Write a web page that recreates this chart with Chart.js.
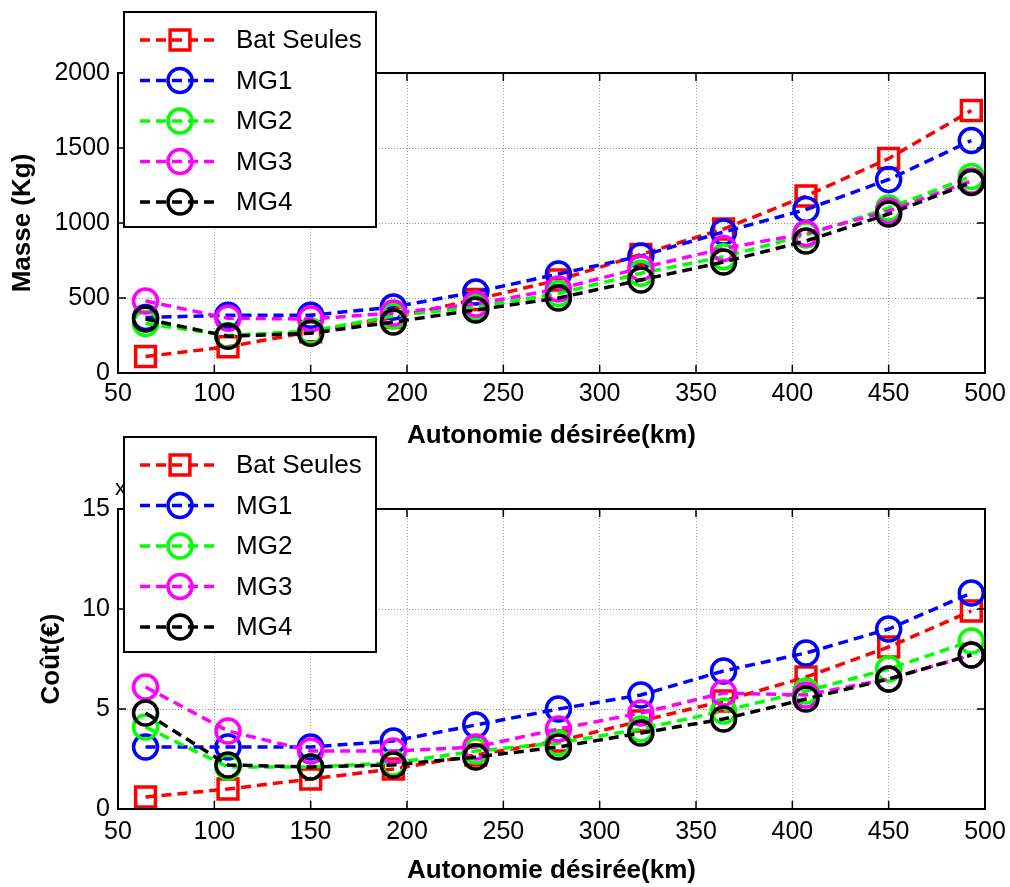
<!DOCTYPE html>
<html><head><meta charset="utf-8">
<script src="https://cdn.jsdelivr.net/npm/chart.js@4/dist/chart.umd.min.js"></script>
<style>
html,body{margin:0;padding:0;background:#fff;width:1010px;height:887px;overflow:hidden;}
#c1{position:absolute;left:0;top:0;}
#c2{position:absolute;left:0;top:425px;}
</style></head><body>
<canvas id="c1" width="1010" height="460"></canvas>
<canvas id="c2" width="1010" height="462"></canvas>
<script>
// ---- data ----
const autonomie = [64.3, 107.1, 150, 192.9, 235.7, 278.6, 321.4, 364.3, 407.1, 450, 492.9];
const seriesNames = ['Bat Seules', 'MG1', 'MG2', 'MG3', 'MG4'];
const batMasse = [110, 175, 275, 370, 490, 620, 790, 960, 1180, 1430, 1750];
const mg1Masse = [370, 385, 385, 440, 540, 660, 780, 940, 1090, 1290, 1550];
const mg2Masse = [330, 250, 280, 380, 440, 530, 665, 775, 920, 1100, 1310];
const mg3Masse = [480, 365, 360, 400, 460, 560, 700, 830, 930, 1080, 1280];
const mg4Masse = [360, 245, 265, 340, 420, 500, 620, 740, 880, 1060, 1270];
const batCout = [0.6, 1.0, 1.5, 2.0, 2.7, 3.4, 4.4, 5.4, 6.6, 8.1, 9.9];
const mg1Cout = [3.1, 3.1, 3.1, 3.4, 4.2, 5.0, 5.7, 6.9, 7.8, 9.0, 10.8];
const mg2Cout = [4.1, 2.1, 2.1, 2.3, 2.9, 3.3, 4.0, 4.9, 5.9, 7.0, 8.4];
const mg3Cout = [6.1, 3.9, 2.9, 2.9, 3.1, 4.0, 4.8, 5.8, 5.7, 6.5, 7.7];
const mg4Cout = [4.8, 2.2, 2.1, 2.2, 2.6, 3.1, 3.8, 4.5, 5.5, 6.5, 7.7];
const xTicks = [50, 100, 150, 200, 250, 300, 350, 400, 450, 500];
const masseTicks = [0, 500, 1000, 1500, 2000];
const coutTicks = [0, 5, 10, 15];
const xTitle = 'Autonomie désirée(km)';
const masseTitle = 'Masse (Kg)';
const coutTitle = 'Coût(€)';
const exponentLabel = 'x10';

const colors = ['#ff0000', '#0000ff', '#00ff00', '#ff00ff', '#000000'];
const styles = ['rect', 'circle', 'circle', 'circle', 'circle'];
const radii = [14, 12, 12, 12, 12];
const FONT = '"Liberation Sans", Arial, sans-serif';

function makeDatasets(arrs) {
  return arrs.map((vals, i) => ({
    label: seriesNames[i],
    data: autonomie.map((x, j) => ({x: x, y: vals[j]})),
    borderColor: colors[i],
    backgroundColor: colors[i],
    borderWidth: 3.5,
    borderDash: [10, 6],
    pointStyle: styles[i],
    pointRadius: radii[i],
    pointHoverRadius: radii[i],
    pointBorderWidth: 3.5,
    pointBackgroundColor: 'rgba(0,0,0,0)',
    pointBorderColor: colors[i],
    order: 5 - i,
    tension: 0,
    clip: false
  }));
}

const framePlugin = {
  id: 'frame',
  afterDraw(chart, args, opts) {
    const ctx = chart.ctx, a = chart.chartArea;
    const xs = chart.scales.x, ys = chart.scales.y;
    ctx.save();
    ctx.strokeStyle = '#000';
    ctx.lineWidth = 2;
    ctx.setLineDash([]);
    ctx.strokeRect(a.left, a.top, a.right - a.left, a.bottom - a.top);
    // inward ticks
    ctx.lineWidth = 1.5;
    const tl = 8;
    xs.ticks.forEach(t => {
      const px = xs.getPixelForValue(t.value);
      ctx.beginPath();
      ctx.moveTo(px, a.bottom); ctx.lineTo(px, a.bottom - tl);
      ctx.moveTo(px, a.top); ctx.lineTo(px, a.top + tl);
      ctx.stroke();
    });
    ys.ticks.forEach(t => {
      const py = ys.getPixelForValue(t.value);
      ctx.beginPath();
      ctx.moveTo(a.left, py); ctx.lineTo(a.left + tl, py);
      ctx.moveTo(a.right, py); ctx.lineTo(a.right - tl, py);
      ctx.stroke();
    });
    if (opts.exponent) {
      ctx.fillStyle = '#000';
      ctx.font = '22px ' + FONT;
      ctx.textAlign = 'left';
      ctx.textBaseline = 'middle';
      ctx.fillText(opts.exponent, 115, opts.exponentY);
    }
    // legend
    const L = opts.legend;
    ctx.fillStyle = '#fff';
    ctx.fillRect(L.x, L.y, L.w, L.h);
    ctx.lineWidth = 2;
    ctx.strokeStyle = '#000';
    ctx.strokeRect(L.x, L.y, L.w, L.h);
    chart.data.datasets.forEach((ds, i) => {
      const y = L.y + 28 + i * 40.5;
      ctx.save();
      ctx.strokeStyle = ds.borderColor;
      ctx.lineWidth = 3.5;
      ctx.setLineDash([10, 6]);
      ctx.beginPath();
      ctx.moveTo(L.x + 16, y); ctx.lineTo(L.x + 96, y);
      ctx.stroke();
      ctx.setLineDash([]);
      ctx.fillStyle = 'rgba(0,0,0,0)';
      ctx.strokeStyle = ds.borderColor;
      Chart.helpers.drawPoint(ctx, {pointStyle: ds.pointStyle, radius: ds.pointRadius, borderWidth: 3.5}, L.x + 56, y);
      ctx.restore();
      ctx.fillStyle = '#000';
      ctx.font = '26px ' + FONT;
      ctx.textAlign = 'left';
      ctx.textBaseline = 'middle';
      ctx.fillText(ds.label, L.x + 112, y + 1);
    });
    ctx.restore();
  }
};

function makeChart(id, arrs, yTicks, yTitle, geom) {
  const yMin = yTicks[0], yMax = yTicks[yTicks.length - 1];
  return new Chart(document.getElementById(id), {
    type: 'line',
    data: {datasets: makeDatasets(arrs)},
    plugins: [framePlugin],
    options: {
      responsive: false,
      animation: false,
      events: [],
      layout: {padding: {left: 0, right: 25, top: geom.top, bottom: 0}},
      plugins: {
        legend: {display: false},
        tooltip: {enabled: false},
        frame: {legend: {x: 124, y: 12, w: 252, h: 215}, exponent: geom.exponent, exponentY: geom.exponentY}
      },
      scales: {
        x: {
          type: 'linear',
          min: xTicks[0], max: xTicks[xTicks.length - 1],
          afterBuildTicks: s => { s.ticks = xTicks.map(v => ({value: v})); },
          afterFit: s => { s.height = geom.xh; s.paddingLeft = 0; s.paddingRight = 0; },
          ticks: {color: '#000', font: {family: FONT, size: 25}, padding: geom.xpad, maxRotation: 0, autoSkip: false,
                  callback: v => String(v)},
          grid: {color: '#9a9a9a', lineWidth: 1, drawTicks: false},
          border: {display: false, dash: [1, 2]},
          title: {display: true, text: xTitle, color: '#000', font: {family: FONT, size: 26, weight: 'bold', lineHeight: 1.2}, padding: {top: 0, bottom: geom.xtpad}}
        },
        y: {
          type: 'linear',
          min: yMin, max: yMax,
          afterBuildTicks: s => { s.ticks = yTicks.map(v => ({value: v})); },
          afterFit: s => { s.width = 118; s.paddingTop = 0; s.paddingBottom = 0; },
          ticks: {color: '#000', font: {family: FONT, size: 25}, padding: 8, autoSkip: false,
                  callback: v => String(v)},
          grid: {color: '#9a9a9a', lineWidth: 1, drawTicks: false},
          border: {display: false, dash: [1, 2]},
          title: {display: true, text: yTitle, color: '#000', font: {family: FONT, size: 26, weight: 'bold', lineHeight: 1.2}, padding: {top: geom.ytpad, bottom: 0}}
        }
      }
    }
  });
}

makeChart('c1', [batMasse, mg1Masse, mg2Masse, mg3Masse, mg4Masse], masseTicks, masseTitle,
  {top: 73, xh: 87, xpad: 6, xtpad: 8.4, ytpad: 7.4});
makeChart('c2', [batCout, mg1Cout, mg2Cout, mg3Cout, mg4Cout], coutTicks, coutTitle,
  {top: 84, xh: 78, xpad: 8, xtpad: 0.4, ytpad: 36.4, exponent: exponentLabel, exponentY: 64});
</script>
</body></html>
